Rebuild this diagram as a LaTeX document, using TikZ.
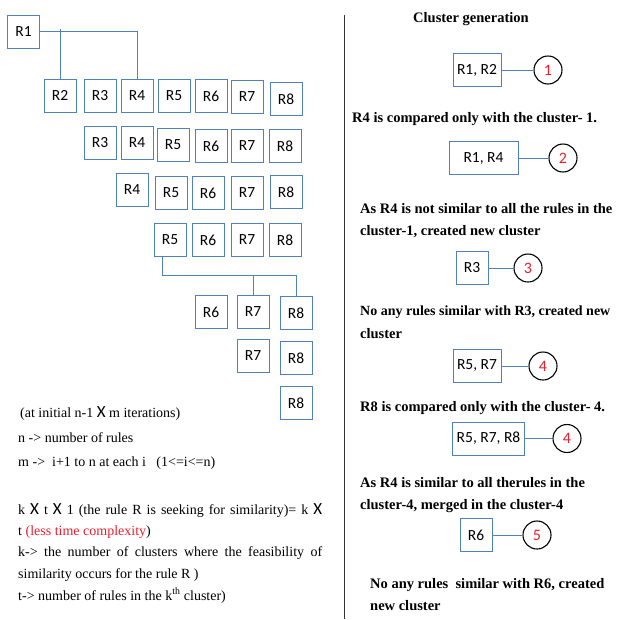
\documentclass[tikz,border=0pt]{standalone}
\usepackage{fontspec}
\setmainfont{Liberation Serif}
\newfontfamily\carl{Carlito}
\definecolor{boxblue}{RGB}{79,129,189}
\definecolor{numred}{RGB}{235,30,45}
\newcommand{\bigX}{{\carl\fontsize{17}{17}\selectfont X}}
\begin{document}
\begin{tikzpicture}[x=1pt,y=-1pt,
  rbox/.style={draw=boxblue,line width=0.9pt,minimum width=32pt,minimum height=33pt,inner sep=0pt,font=\carl\fontsize{15.5}{15.5}\selectfont},
  cbox/.style={draw=boxblue,line width=0.9pt,minimum height=33pt,inner sep=4pt,font=\carl\fontsize{15.5}{15.5}\selectfont},
  conn/.style={draw=boxblue,line width=1pt},
  num/.style={circle,draw=black,line width=1.1pt,minimum size=28pt,inner sep=0pt,text=numred,font=\carl\fontsize{16}{16}\selectfont},
  ltxt/.style={anchor=base west,inner sep=0pt,font=\fontsize{14}{16}\selectfont},
  btxt/.style={anchor=base west,inner sep=0pt,font=\bfseries\fontsize{14.5}{16}\selectfont}]
\useasboundingbox (0,0) rectangle (621,619);
% tree boxes
\node[rbox] (R1) at (23.5,31.5) {R1};
\node[rbox] (R2a) at (60,95.5) {R2};
\node[rbox] (R3a) at (100,95.5) {R3};
\node[rbox] (R4a) at (137,96) {R4};
\node[rbox] (R5a) at (174,96) {R5};
\node[rbox] (R6a) at (211,96) {R6};
\node[rbox] (R7a) at (247,97) {R7};
\node[rbox] (R8a) at (286,99) {R8};
\node[rbox] (R3b) at (100,143) {R3};
\node[rbox] (R4b) at (137,143) {R4};
\node[rbox] (R5b) at (173,145) {R5};
\node[rbox] (R6b) at (211,146) {R6};
\node[rbox] (R7b) at (247,146) {R7};
\node[rbox] (R8b) at (285,146) {R8};
\node[rbox] (R4c) at (132,190) {R4};
\node[rbox] (R5c) at (171,193) {R5};
\node[rbox] (R6c) at (208,193) {R6};
\node[rbox] (R7c) at (247,193) {R7};
\node[rbox] (R8c) at (286,192) {R8};
\node[rbox] (R5d) at (170,240) {R5};
\node[rbox] (R6d) at (208,240) {R6};
\node[rbox] (R7d) at (247,240) {R7};
\node[rbox] (R8d) at (285,240) {R8};
\node[rbox] (R6e) at (211,312) {R6};
\node[rbox] (R7e) at (253,312) {R7};
\node[rbox] (R8e) at (296,313) {R8};
\node[rbox] (R7f) at (253,356) {R7};
\node[rbox] (R8f) at (296,358) {R8};
\node[rbox] (R8g) at (296,403) {R8};
% tree connectors
\draw[conn] (R1.east) -| (R4a.north);
\coordinate (j1) at (60,29);
\draw[conn] (R2a.north) -- (j1);
\coordinate (j2) at (162,275);
\draw[conn] (R5d.south -| j2) -- (j2) -| (R8e.north);
\draw[conn] (R7e.north) -- (R7e.north |- j2);
% divider
\coordinate (d1) at (344,15);
\coordinate (d2) at (344,619);
\draw[line width=1pt,black!80] (d1) -- (d2);
% right side
\node[anchor=base,inner sep=0pt,font=\bfseries\fontsize{14.5}{16}\selectfont] (title) at (471,22) {Cluster generation};
\node[cbox] (c1) at (477,70) {R1, R2};
\node[num] (n1) at (548,70) {1};
\draw[conn] (c1) -- (n1);
\node[btxt] (t1) at (352,122) {R4 is compared only with the cluster- 1.};
\node[cbox,minimum width=69pt] (c2) at (483.5,158) {R1, R4\hspace{12pt}};
\node[num] (n2) at (563,158) {2};
\draw[conn] (c2) -- (n2);
\node[btxt] (t2) at (360,213) {As R4 is not similar to all the rules in the};
\node[btxt] (t2b) at (360,235) {cluster-1, created new cluster};
\node[cbox,minimum width=32pt,inner sep=0pt] (c3) at (472,268) {R3};
\node[num] (n3) at (528,268) {3};
\draw[conn] (c3) -- (n3);
\node[btxt,font=\bfseries\fontsize{14}{16}\selectfont] (t3) at (360,315) {No any rules similar with R3, created new};
\node[btxt] (t3b) at (360,338) {cluster};
\node[cbox] (c4) at (477,366) {R5, R7};
\node[num] (n4) at (543,366) {4};
\draw[conn] (c4) -- (n4);
\node[btxt] (t4) at (360,411) {R8 is compared only with the cluster- 4.};
\node[cbox] (c5) at (488.5,438.5) {R5, R7, R8};
\node[num] (n5) at (567,438.5) {4};
\draw[conn] (c5) -- (n5);
\node[btxt] (t5) at (360,487) {As R4 is similar to all therules in the};
\node[btxt] (t5b) at (360,509) {cluster-4, merged in the cluster-4};
\node[cbox,minimum width=32pt,inner sep=0pt] (c6) at (476,535) {R6};
\node[num] (n6) at (537,535) {5};
\draw[conn] (c6) -- (n6);
\node[btxt] (t6) at (370,588) {No any rules\ \ similar with R6, created};
\node[btxt] (t6b) at (370,610) {new cluster};
% left text
\node[ltxt] (l1) at (20,417) {(at initial n-1 \bigX\ m iterations)};
\node[ltxt] (l2) at (18,442) {n -> number of rules};
\node[ltxt] (l3) at (18,466) {m ->\ \ i+1 to n at each i\ \ \ (1<=i<=n)};
\node[ltxt] (l4) at (18,514) {\makebox[304pt][s]{k \bigX\ t \bigX\ 1 (the rule R is seeking for similarity)= k \bigX}};
\node[ltxt] (l5) at (18,535) {t {\color{numred}(less time complexity})};
\node[ltxt] (l6) at (18,556) {\makebox[304pt][s]{k-> the number of clusters where the feasibility of}};
\node[ltxt] (l7) at (18,578) {similarity occurs for the rule R )};
\node[ltxt] (l8) at (18,600) {t-> number of rules in the k\textsuperscript{th} cluster)};
\end{tikzpicture}
\end{document}
